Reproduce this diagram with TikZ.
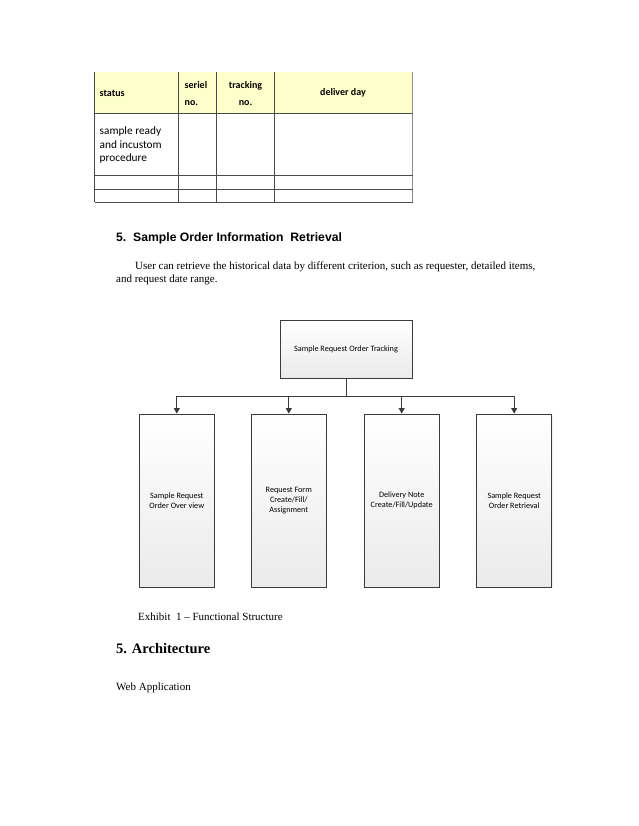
\documentclass[tikz,border=0pt]{standalone}
\usepackage{fontspec}
\setmainfont{Liberation Serif}
\newfontfamily\calfont{Carlito}
\newfontfamily\arialfont{Liberation Sans}
\usepackage{tikz}
\usetikzlibrary{arrows.meta, positioning, calc, shadows}
\definecolor{hdryellow}{HTML}{FFFFCC}
\definecolor{gridgray}{HTML}{4A4A4A}
\definecolor{boxline}{HTML}{3C3C3C}

\begin{document}
\begin{tikzpicture}[x=1pt, y=-1pt,
  cell/.style={inner sep=0pt, font=\calfont\fontsize{10}{17}\selectfont\bfseries},
  celltext/.style={inner sep=0pt, align=left, font=\calfont\fontsize{11.3}{13.5}\selectfont},
  blk/.style={rectangle, draw=boxline, line width=0.8pt, top color=white, bottom color=black!8,
    drop shadow={shadow xshift=1pt, shadow yshift=-1pt, opacity=0.12},
    align=center, font=\calfont\fontsize{8.2}{10}\selectfont},
  para/.style={inner sep=0pt, anchor=west, font=\fontsize{11}{13}\selectfont},
  link/.style={draw=boxline, line width=0.8pt}
]
  \useasboundingbox (0,0) rectangle (638,826);

  % Table
  \fill[hdryellow] (94.7,72) rectangle (412.5,113);
  \draw[gridgray, line width=0.7pt] (94.7,72) -- (94.7,202)
    (178,72) -- (178,202) (216.7,72) -- (216.7,202) (274,72) -- (274,202);
  \draw[black!45, line width=0.8pt] (412.5,72) -- (412.5,202);
  \draw[gridgray, line width=0.7pt] (94.7,113) -- (412.5,113)
    (94.7,175) -- (412.5,175) (94.7,189) -- (412.5,189) (94.7,202) -- (412.5,202);
  \node[cell, anchor=west] (hstatus) at (99.5,93) {status};
  \node[cell, anchor=west, align=left] (hserial) at (184.5,94) {seriel\\no.};
  \node[cell, align=center] (htrack) at (245.5,94) {tracking\\no.};
  \node[cell] (hday) at (343,93) {deliver day};
  \node[celltext, anchor=north west] (rstatus) at (99.5,126.5) {sample ready\\and incustom\\procedure};

  % Section text
  \node[para, anchor=west, font=\arialfont\fontsize{12.2}{14}\selectfont\bfseries] (sec5) at (116,238) {5.\ \ Sample Order Information\ \ Retrieval};
  \node[para] (line1) at (135,267) {User can retrieve the historical data by different criterion, such as requester, detailed items,};
  \node[para] (line2) at (116,280) {and request date range.};

  % Functional structure
  \node[blk, minimum width=132pt, minimum height=58pt] (root) at (346,349) {Sample Request Order Tracking};
  \node[blk, minimum width=75pt, minimum height=173pt] (ovw) at (176.8,500.5) {Sample Request\\Order Over view};
  \node[blk, minimum width=75pt, minimum height=173pt] (form) at (288.8,500.5) {Request Form\\Create/Fill/\\Assignment};
  \node[blk, minimum width=75pt, minimum height=173pt] (note) at (401.7,500.5) {Delivery Note\\Create/Fill/Update};
  \node[blk, minimum width=75pt, minimum height=173pt] (retr) at (514.2,500.5) {Sample Request\\Order Retrieval};
  \coordinate (bus) at (346,396);
  \draw[link] (root.south) -- (bus);
  \draw[link] (ovw |- bus) -- (retr |- bus);
  \foreach \n in {ovw, form, note, retr}
    \draw[link, -{Triangle[length=5.5pt, width=6pt]}] (\n |- bus) -- (\n.north);

  % Caption and next section
  \node[para] (caption) at (138,617) {Exhibit\ \ 1 -- Functional Structure};
  \node[para, font=\fontsize{14.5}{16}\selectfont\bfseries] (arch) at (116,649) {5. Architecture};
  \node[para] (webapp) at (116,688) {Web Application};
\end{tikzpicture}
\end{document}
